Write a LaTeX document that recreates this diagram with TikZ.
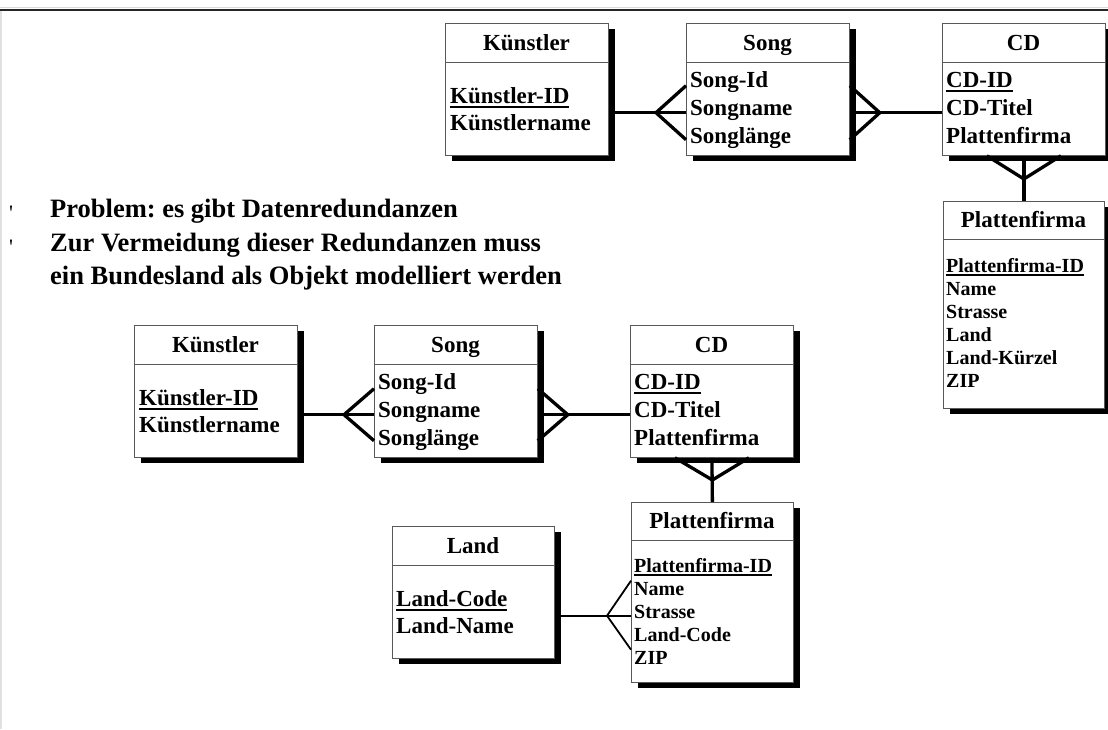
\documentclass[tikz,border=0pt]{standalone}
\usepackage{fontspec}
\setmainfont{Liberation Serif}
\frenchspacing
\usetikzlibrary{calc,shadows}
\newcommand\pk[1]{\setbox0\hbox{#1}\rlap{\rule[-0.22em]{\wd0}{0.11em}}\box0}
\begin{document}
\begin{tikzpicture}[x=1pt,y=-1pt,
    entity/.style={draw=black!65,fill=white,line width=0.8pt,anchor=north west,inner sep=0pt,
      minimum width=163pt,minimum height=132pt,
      drop shadow={shadow xshift=7pt,shadow yshift=-6pt,fill=black,opacity=1}},
    boxline/.style={draw=black!65,line width=0.8pt},
    title/.style={anchor=base,inner sep=0pt,font=\fontsize{23}{27}\selectfont\bfseries},
    attr/.style={anchor=base west,inner sep=0pt,font=\fontsize{23}{27}\selectfont\bfseries},
    smallattr/.style={anchor=base west,inner sep=0pt,font=\fontsize{20}{23}\selectfont\bfseries},
    bullet/.style={anchor=base west,inner sep=0pt,font=\fontsize{26.5}{33}\selectfont\bfseries},
    tick/.style={anchor=base,inner sep=0pt,font=\fontsize{22}{22}\selectfont},
    rel/.style={line width=3.3pt},
    relthin/.style={line width=1.8pt}]
    \useasboundingbox (0,0) rectangle (1108,729);
    % frame
    \draw[black!12,line width=1.5pt] (1,10) -- (1,729);
    \draw[black!15,line width=1pt] (0,7.5) -- (1108,7.5);
    \draw[black!85,line width=2pt] (0,9.5) -- (1108,9.5);
    % text
    \node[tick] (t1) at (11,220) {\textquotesingle};
    \node[tick] (t2) at (11,254) {\textquotesingle};
    \node[bullet] (b1) at (50,217) {Problem: es gibt Datenredundanzen};
    \node[bullet] (b2) at (50,251) {Zur Vermeidung dieser Redundanzen muss};
    \node[bullet] (b3) at (50,284) {ein Bundesland als Objekt modelliert werden};
    % first model
    \node[entity] (kueA) at (445,23) {};
    \draw[boxline] ([yshift=-39pt]kueA.north west) -- ([yshift=-39pt]kueA.north east);
    \node[title] (kueA-t) at (526.5,50) {Künstler};
    \node[attr] (kueA-1) at (450,103) {\pk{Künstler-ID}};
    \node[attr] (kueA-2) at (450,130) {Künstlername};
    \node[entity] (songA) at (686,23) {};
    \draw[boxline] ([yshift=-39pt]songA.north west) -- ([yshift=-39pt]songA.north east);
    \node[title] (songA-t) at (767.5,50) {Song};
    \node[attr] (songA-1) at (690,87) {Song-Id};
    \node[attr] (songA-2) at (690,115) {Songname};
    \node[attr] (songA-3) at (690,143) {Songlänge};
    \node[entity] (cdA) at (942,23) {};
    \draw[boxline] ([yshift=-39pt]cdA.north west) -- ([yshift=-39pt]cdA.north east);
    \node[title] (cdA-t) at (1023.5,50) {CD};
    \node[attr] (cdA-1) at (946,87) {\pk{CD-ID}};
    \node[attr] (cdA-2) at (946,115) {CD-Titel};
    \node[attr] (cdA-3) at (946,143) {Plattenfirma};
    \node[entity,minimum width=161pt,minimum height=207pt] (pfA) at (943,201) {};
    \draw[boxline] ([yshift=-38pt]pfA.north west) -- ([yshift=-38pt]pfA.north east);
    \node[title] (pfA-t) at (1023.5,227) {Plattenfirma};
    \node[smallattr] (pfA-1) at (946,272) {\pk{Plattenfirma-ID}};
    \node[smallattr] (pfA-2) at (946,295) {Name};
    \node[smallattr] (pfA-3) at (946,318) {Strasse};
    \node[smallattr] (pfA-4) at (946,341) {Land};
    \node[smallattr] (pfA-5) at (946,364) {Land-Kürzel};
    \node[smallattr] (pfA-6) at (946,387) {ZIP};
    \coordinate (jA1) at ($(songA.west |- songA-2.mid)+(-30,0)$);
    \draw[rel] (kueA.east |- jA1) -- (songA.west |- jA1);
    \draw[rel] ($(songA.west |- jA1)+(0,-27)$) -- (jA1) -- ($(songA.west |- jA1)+(0,27)$);
    \coordinate (jA2) at ($(songA.east |- songA-2.mid)+(30,0)$);
    \draw[rel] (songA.east |- jA2) -- (cdA.west |- jA2);
    \draw[rel] ($(songA.east |- jA2)+(0,-27)$) -- (jA2) -- ($(songA.east |- jA2)+(0,27)$);
    \coordinate (jA3) at ($(pfA.north)+(0,-22)$);
    \draw[rel] (cdA.south) -- (pfA.north);
    \draw[rel] ($(cdA.south)+(-37,0)$) -- (jA3) -- ($(cdA.south)+(37,0)$);
    % second model
    \node[entity] (kueB) at (134,325) {};
    \draw[boxline] ([yshift=-39pt]kueB.north west) -- ([yshift=-39pt]kueB.north east);
    \node[title] (kueB-t) at (215.5,352) {Künstler};
    \node[attr] (kueB-1) at (139,405) {\pk{Künstler-ID}};
    \node[attr] (kueB-2) at (139,432) {Künstlername};
    \node[entity] (songB) at (374,325) {};
    \draw[boxline] ([yshift=-39pt]songB.north west) -- ([yshift=-39pt]songB.north east);
    \node[title] (songB-t) at (455.5,352) {Song};
    \node[attr] (songB-1) at (378,389) {Song-Id};
    \node[attr] (songB-2) at (378,417) {Songname};
    \node[attr] (songB-3) at (378,445) {Songlänge};
    \node[entity] (cdB) at (630,325) {};
    \draw[boxline] ([yshift=-39pt]cdB.north west) -- ([yshift=-39pt]cdB.north east);
    \node[title] (cdB-t) at (711.5,352) {CD};
    \node[attr] (cdB-1) at (634,389) {\pk{CD-ID}};
    \node[attr] (cdB-2) at (634,417) {CD-Titel};
    \node[attr] (cdB-3) at (634,445) {Plattenfirma};
    \node[entity,minimum width=162pt,minimum height=180pt] (pfB) at (631,502) {};
    \draw[boxline] ([yshift=-38pt]pfB.north west) -- ([yshift=-38pt]pfB.north east);
    \node[title] (pfB-t) at (712,528) {Plattenfirma};
    \node[smallattr] (pfB-1) at (634,572) {\pk{Plattenfirma-ID}};
    \node[smallattr] (pfB-2) at (634,595) {Name};
    \node[smallattr] (pfB-3) at (634,618) {Strasse};
    \node[smallattr] (pfB-4) at (634,641) {Land-Code};
    \node[smallattr] (pfB-5) at (634,664) {ZIP};
    \node[entity,minimum width=162pt] (land) at (392,526) {};
    \draw[boxline] ([yshift=-39pt]land.north west) -- ([yshift=-39pt]land.north east);
    \node[title] (land-t) at (473,553) {Land};
    \node[attr] (land-1) at (396,606) {\pk{Land-Code}};
    \node[attr] (land-2) at (396,633) {Land-Name};
    \coordinate (jB1) at ($(songB.west |- songB-2.mid)+(-30,0)$);
    \draw[rel] (kueB.east |- jB1) -- (songB.west |- jB1);
    \draw[rel] ($(songB.west |- jB1)+(0,-26)$) -- (jB1) -- ($(songB.west |- jB1)+(0,26)$);
    \coordinate (jB2) at ($(songB.east |- songB-2.mid)+(30,0)$);
    \draw[rel] (songB.east |- jB2) -- (cdB.west |- jB2);
    \draw[rel] ($(songB.east |- jB2)+(0,-26)$) -- (jB2) -- ($(songB.east |- jB2)+(0,26)$);
    \coordinate (jB3) at ($(pfB.north)+(0,-22)$);
    \draw[rel] (cdB.south) -- (pfB.north);
    \draw[rel] ($(cdB.south)+(-37,0)$) -- (jB3) -- ($(cdB.south)+(37,0)$);
    \coordinate (jB4) at ($(pfB.west |- pfB-3.mid)+(-24,0)$);
    \draw[relthin] (land.east |- jB4) -- (pfB.west |- jB4);
    \draw[relthin] ($(pfB.west |- jB4)+(0,-35)$) -- (jB4) -- ($(pfB.west |- jB4)+(0,34)$);
\end{tikzpicture}
\end{document}
